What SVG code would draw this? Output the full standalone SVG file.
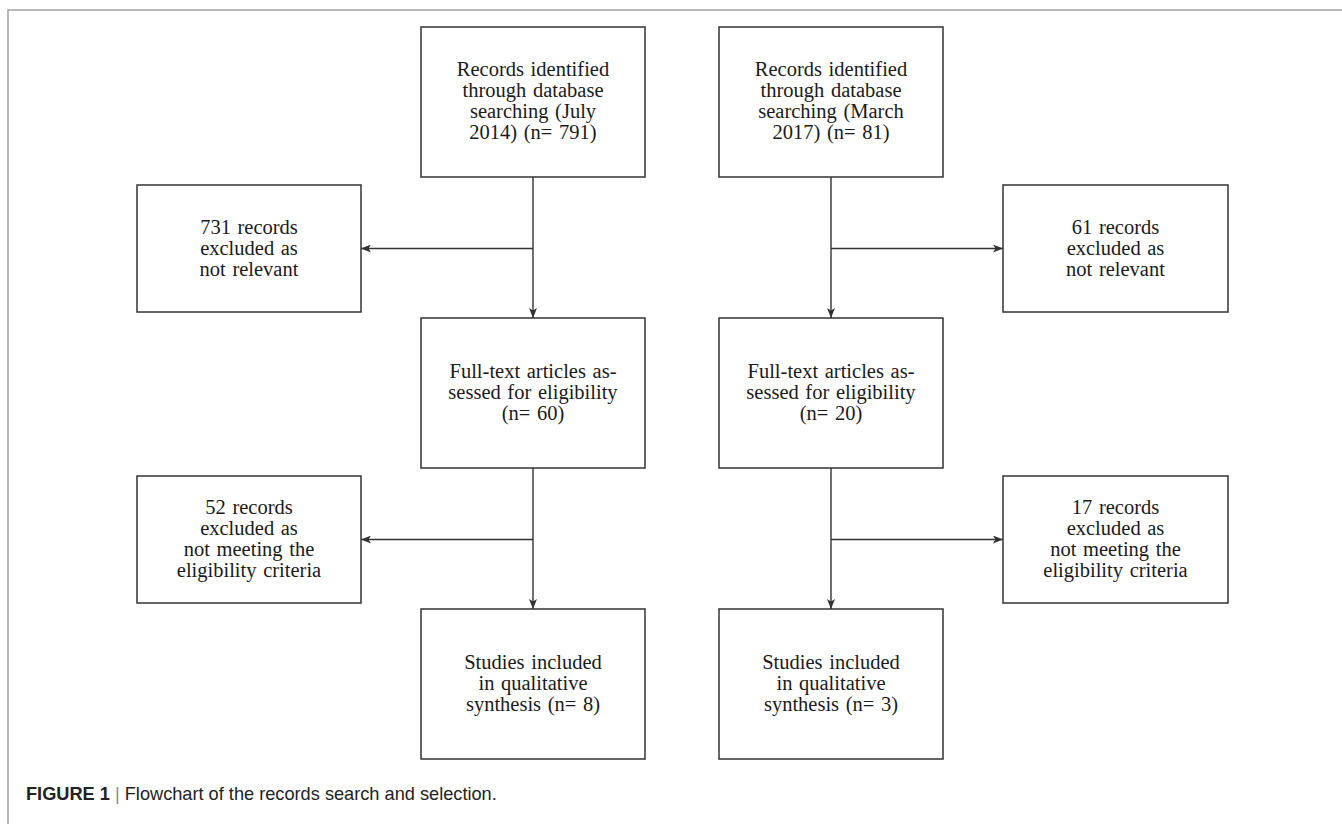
<svg xmlns="http://www.w3.org/2000/svg" width="1342" height="824" viewBox="0 0 1342 824">
<style>
.box{fill:#fff;stroke:#333;stroke-width:1.5}
.t{font-family:"Liberation Serif","Times New Roman",serif;font-size:20.5px;word-spacing:1.5px;fill:#1a1a1a;text-anchor:middle}
.c{stroke:#333;stroke-width:1.4;fill:none}
.frame{stroke:#a0a0a0;stroke-width:1.5;fill:none}
.cap{font-family:"Liberation Sans",Arial,sans-serif;font-size:18.2px;fill:#222}
</style>
<defs>
<marker id="ah" viewBox="0 0 10 8" refX="10" refY="4" markerWidth="10" markerHeight="8" markerUnits="userSpaceOnUse" orient="auto">
<path d="M0,0 L10,4 L0,8 L2.5,4 Z" fill="#333"/>
</marker>
</defs>
<rect width="1342" height="824" fill="#fff"/>
<path class="frame" d="M8,824 V10 H1342"/>

<g id="connectors">
<line class="c" x1="533" y1="177" x2="533" y2="318" marker-end="url(#ah)"/>
<line class="c" x1="533" y1="248.5" x2="361" y2="248.5" marker-end="url(#ah)"/>
<line class="c" x1="533" y1="468" x2="533" y2="609" marker-end="url(#ah)"/>
<line class="c" x1="533" y1="539.5" x2="361" y2="539.5" marker-end="url(#ah)"/>
<line class="c" x1="831" y1="177" x2="831" y2="318" marker-end="url(#ah)"/>
<line class="c" x1="831" y1="248.5" x2="1003" y2="248.5" marker-end="url(#ah)"/>
<line class="c" x1="831" y1="468" x2="831" y2="609" marker-end="url(#ah)"/>
<line class="c" x1="831" y1="539.5" x2="1003" y2="539.5" marker-end="url(#ah)"/>
</g>

<g id="n1">
<rect class="box" x="421" y="27" width="224" height="150"/>
<text class="t" x="533" y="76">Records identified</text>
<text class="t" x="533" y="97">through database</text>
<text class="t" x="533" y="118">searching (July</text>
<text class="t" x="533" y="139">2014) (n= 791)</text>
</g>
<g id="n2">
<rect class="box" x="719" y="27" width="224" height="150"/>
<text class="t" x="831" y="76">Records identified</text>
<text class="t" x="831" y="97">through database</text>
<text class="t" x="831" y="118">searching (March</text>
<text class="t" x="831" y="139">2017) (n= 81)</text>
</g>
<g id="n3">
<rect class="box" x="137" y="185" width="224" height="127"/>
<text class="t" x="249" y="234">731 records</text>
<text class="t" x="249" y="255">excluded as</text>
<text class="t" x="249" y="276">not relevant</text>
</g>
<g id="n4">
<rect class="box" x="1003" y="185" width="225" height="127"/>
<text class="t" x="1115.5" y="234">61 records</text>
<text class="t" x="1115.5" y="255">excluded as</text>
<text class="t" x="1115.5" y="276">not relevant</text>
</g>
<g id="n5">
<rect class="box" x="421" y="318" width="224" height="150"/>
<text class="t" x="533" y="378">Full-text articles as-</text>
<text class="t" x="533" y="399">sessed for eligibility</text>
<text class="t" x="533" y="420">(n= 60)</text>
</g>
<g id="n6">
<rect class="box" x="719" y="318" width="224" height="150"/>
<text class="t" x="831" y="378">Full-text articles as-</text>
<text class="t" x="831" y="399">sessed for eligibility</text>
<text class="t" x="831" y="420">(n= 20)</text>
</g>
<g id="n7">
<rect class="box" x="137" y="476" width="224" height="127"/>
<text class="t" x="249" y="514">52 records</text>
<text class="t" x="249" y="535">excluded as</text>
<text class="t" x="249" y="556">not meeting the</text>
<text class="t" x="249" y="577">eligibility criteria</text>
</g>
<g id="n8">
<rect class="box" x="1003" y="476" width="225" height="127"/>
<text class="t" x="1115.5" y="514">17 records</text>
<text class="t" x="1115.5" y="535">excluded as</text>
<text class="t" x="1115.5" y="556">not meeting the</text>
<text class="t" x="1115.5" y="577">eligibility criteria</text>
</g>
<g id="n9">
<rect class="box" x="421" y="609" width="224" height="150"/>
<text class="t" x="533" y="669">Studies included</text>
<text class="t" x="533" y="690">in qualitative</text>
<text class="t" x="533" y="711">synthesis (n= 8)</text>
</g>
<g id="n10">
<rect class="box" x="719" y="609" width="224" height="150"/>
<text class="t" x="831" y="669">Studies included</text>
<text class="t" x="831" y="690">in qualitative</text>
<text class="t" x="831" y="711">synthesis (n= 3)</text>
</g>

<text class="cap" x="26" y="800"><tspan font-weight="bold">FIGURE 1</tspan><tspan fill="#888"> | </tspan>Flowchart of the records search and selection.</text>
</svg>
